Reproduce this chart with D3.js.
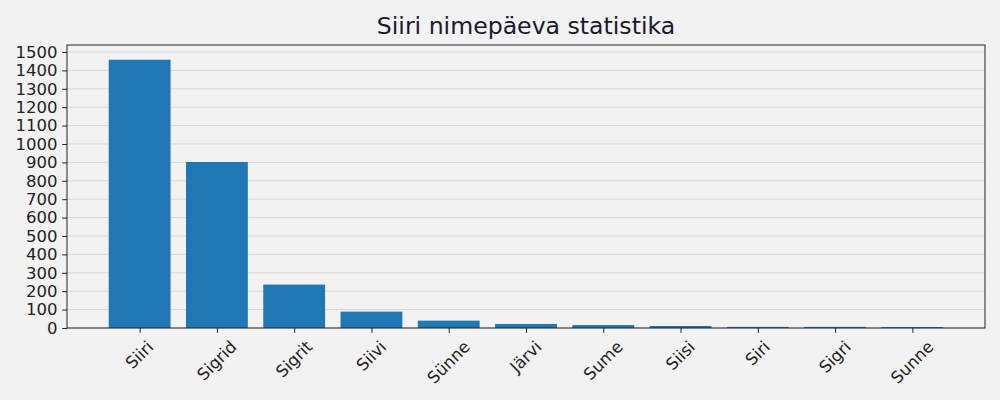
<!DOCTYPE html>
<html>
<head>
<meta charset="utf-8">
<script src="https://cdn.jsdelivr.net/npm/d3@7"></script>
<style>
  html, body { margin: 0; padding: 0; background: #f2f2f2; }
  svg { display: block; }
</style>
</head>
<body>
<svg id="chart" width="1000" height="400"></svg>
<script>
const names = ["Siiri", "Sigrid", "Sigrit", "Siivi", "Sünne", "Järvi", "Sume", "Siisi", "Siri", "Sigri", "Sunne"];
const counts = [1458, 902, 236, 89, 40, 22, 16, 11, 6, 6, 5];
const yTicks = [0, 100, 200, 300, 400, 500, 600, 700, 800, 900, 1000, 1100, 1200, 1300, 1400, 1500];
const titleText = "Siiri nimepäeva statistika";

const W = 1000, H = 400;
const m = { left: 67, right: 15, top: 45, bottom: 72 };
const svg = d3.select("#chart");
svg.append("rect").attr("width", W).attr("height", H).attr("fill", "#f2f2f2");

const n = names.length;
const x = d3.scaleLinear().domain([-0.94, n - 1 + 0.94]).range([m.left, W - m.right]);
const y = d3.scaleLinear().domain([0, 1538]).range([H - m.bottom, m.top]);

const font = "DejaVu Sans, sans-serif";
const textColor = "#222222";

// grid
svg.append("g").selectAll("line").data(yTicks).join("line")
  .attr("x1", m.left).attr("x2", W - m.right)
  .attr("y1", d => y(d)).attr("y2", d => y(d))
  .attr("stroke", "#d3d3d3").attr("stroke-width", 0.9);

// bars
const bw = 0.8;
svg.append("g").selectAll("rect").data(counts).join("rect")
  .attr("x", (d, i) => x(i - bw / 2))
  .attr("width", (d, i) => x(i + bw / 2) - x(i - bw / 2))
  .attr("y", d => y(d))
  .attr("height", d => y(0) - y(d))
  .attr("fill", "#1f77b4");

// frame
svg.append("rect")
  .attr("x", m.left).attr("y", m.top)
  .attr("width", W - m.right - m.left).attr("height", H - m.bottom - m.top)
  .attr("fill", "none").attr("stroke", textColor).attr("stroke-width", 1);

// y axis
const yAxis = d3.axisLeft(y).tickValues(yTicks).tickSize(4.8).tickPadding(4.8).tickFormat(d3.format("d"));
const gy = svg.append("g").attr("transform", `translate(${m.left},0)`).call(yAxis);
gy.select(".domain").remove();
gy.selectAll("line").attr("stroke", textColor);
gy.selectAll("text").attr("font-family", font).attr("font-size", "16.5px").attr("fill", textColor);

// x axis
const xAxis = d3.axisBottom(x).tickValues(d3.range(n)).tickSize(4.8).tickFormat(() => "");
const gx = svg.append("g").attr("transform", `translate(0,${H - m.bottom})`).call(xAxis);
gx.select(".domain").remove();
gx.selectAll("line").attr("stroke", textColor);

// rotated x labels, bbox centered on tick
const labelTop = H - m.bottom + 10.5;
const fs = 16.5;
const lbl = svg.append("g").selectAll("text").data(names).join("text")
  .attr("font-family", font).attr("font-size", fs + "px").attr("fill", textColor)
  .attr("text-anchor", "middle").attr("dominant-baseline", "central")
  .text(d => d);
lbl.each(function(d, i) {
  const L = this.getComputedTextLength();
  const h = fs * 0.95;
  const half = (L + h) * Math.SQRT1_2 / 2;
  const cx = x(i), cy = labelTop + half;
  d3.select(this).attr("x", cx).attr("y", cy)
    .attr("transform", `rotate(-45,${cx},${cy})`);
});

// title
svg.append("text")
  .attr("x", (m.left + W - m.right) / 2).attr("y", 33.5)
  .attr("text-anchor", "middle")
  .attr("font-family", font).attr("font-size", "23.6px").attr("fill", "#1a1a2e")
  .text(titleText);
</script>
</body>
</html>
